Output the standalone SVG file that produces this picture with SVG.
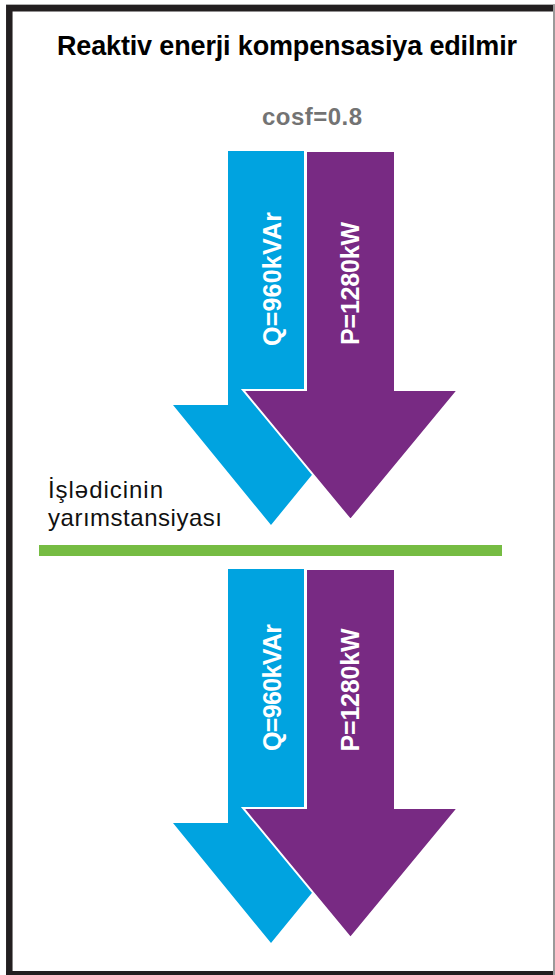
<svg xmlns="http://www.w3.org/2000/svg" width="555" height="975" viewBox="0 0 555 975">
<style>
.q{fill:#00a3e0}
.p{fill:#782a83;stroke:#fff;stroke-width:2;stroke-linejoin:miter}
.lbl{font-family:"Liberation Sans",Arial,sans-serif;font-weight:bold;font-size:25px;fill:#fff;text-anchor:middle}
.t{font-family:"Liberation Sans",Arial,sans-serif}
</style>
<rect x="0" y="0" width="555" height="975" fill="#fff"/>
<g id="frame">
<line x1="6" y1="4.5" x2="555" y2="4.5" stroke="#b0b0b0" stroke-width="1"/>
<line x1="554" y1="4.5" x2="554" y2="975" stroke="#9a9a9a" stroke-width="2"/>
<path d="M9.3 975 V8.2 H553" fill="none" stroke="#231f20" stroke-width="6.5"/>
<line x1="6" y1="973" x2="553" y2="973" stroke="#231f20" stroke-width="4"/>
</g>
<g id="title">
<text class="t" x="287" y="55" font-size="27" font-weight="bold" text-anchor="middle" textLength="460" fill="#000">Reaktiv enerji kompensasiya edilmir</text>
</g>
<g id="cosf">
<text class="t" x="312" y="125" font-size="24" font-weight="bold" text-anchor="middle" textLength="100" fill="#737373">cosf=0.8</text>
</g>
<g id="top-arrows">
<polygon class="q" points="228,151 304,151 304,405 369,405 271,525 173,405 228,405"/>
<polygon class="p" points="306,151 395,151 395,390 458,390 350.5,520 243,390 306,390"/>
<text class="lbl" transform="translate(281,279) rotate(-90)" textLength="134">Q=960kVAr</text>
<text class="lbl" transform="translate(358.5,283.5) rotate(-90)" textLength="123">P=1280kW</text>
</g>
<g id="substation">
<text class="t" x="48" y="497.5" font-size="24" fill="#111" textLength="115">İşlədicinin</text>
<text class="t" x="48" y="525.5" font-size="24" fill="#111" textLength="174">yarımstansiyası</text>
<rect x="39" y="545" width="463" height="11" fill="#76bc43"/>
</g>
<g id="bottom-arrows">
<polygon class="q" points="228,569 304,569 304,823 369,823 271,943 173,823 228,823"/>
<polygon class="p" points="306,569 395,569 395,808 458,808 350.5,938 243,808 306,808"/>
<text class="lbl" transform="translate(281,687.5) rotate(-90)" textLength="127">Q=960kVAr</text>
<text class="lbl" transform="translate(358.5,690) rotate(-90)" textLength="123">P=1280kW</text>
</g>
<g id="connectors"></g>
</svg>
